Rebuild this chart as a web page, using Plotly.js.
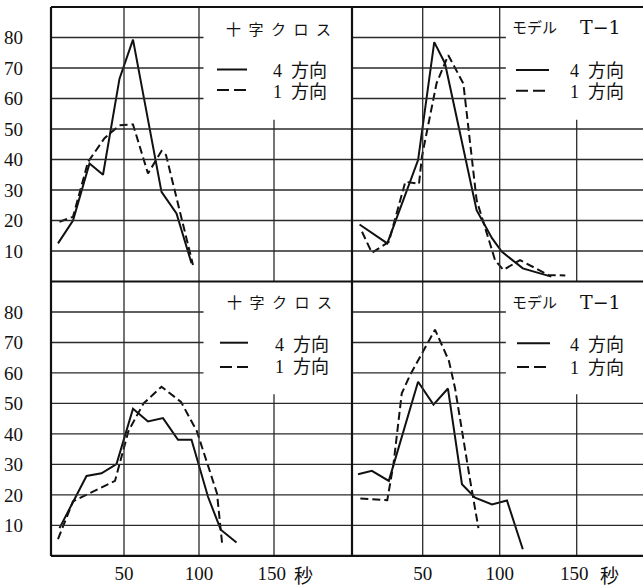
<!DOCTYPE html>
<html><head><meta charset="utf-8">
<script src="https://cdn.plot.ly/plotly-3.0.1.min.js"></script>
<style>html,body{margin:0;padding:0;background:#fff}#chart{width:643px;height:588px}</style>
</head><body><div id="chart"></div>
<script>
// ---------- data ----------
// top-left: 十字クロス
const tlSolidX = [6, 16, 27, 36, 47, 56, 75, 85, 95];
const tlSolidY = [12.5, 20, 38.7, 35, 66.5, 79.3, 29.4, 22.3, 6];
const tlDashX = [7, 16, 26, 37, 47, 56, 66, 75, 78, 96];
const tlDashY = [19.6, 21.2, 39.2, 47, 51.2, 51.5, 35.4, 42.8, 41.5, 5.4];
// top-right: モデル T-1
const trSolidX = [9, 27, 47, 57.5, 64.5, 85, 95, 101.3, 115, 133.5];
const trSolidY = [18.7, 12.5, 39.8, 78.5, 71.5, 23.4, 14.2, 9.8, 4.3, 1.6];
const trDashX = [10.6, 17, 28, 38.7, 47.6, 49.5, 59, 66.6, 76.4, 85, 97, 102.3, 113.2, 131.8, 142.6];
const trDashY = [16.3, 9.4, 13, 32.7, 32, 41, 65, 74.2, 64.9, 26.7, 7, 3.8, 7, 2.1, 2];
// bottom-left: 十字クロス
const blSolidX = [7, 16, 25, 35, 45, 56, 66, 76, 86, 95, 106, 114.5, 125];
const blSolidY = [9.1, 17.9, 26.2, 27.1, 30.1, 48.3, 44.1, 45.2, 38.1, 38.1, 19.4, 8.6, 4.4];
const blDashX = [6, 16, 44, 53, 63, 75, 88, 98.5, 112, 115.5];
const blDashY = [5.5, 17.9, 24.6, 41, 50, 55.5, 50.5, 41, 20.5, 3.6];
// bottom-right: モデル T-1
const brSolidX = [8, 17, 28, 47, 57, 66.4, 75.5, 84, 95, 104.7, 115];
const brSolidY = [26.8, 27.9, 24.6, 57.1, 49.6, 54.9, 23.5, 19.1, 16.9, 18.2, 2.2];
const brDashX = [9.5, 27, 31, 36.4, 41.8, 49.4, 58, 67, 71, 80.7, 86.2];
const brDashY = [18.8, 18.3, 30, 53.3, 59.3, 66.5, 74.2, 64, 55, 25.1, 9.1];

const yTicks = [10, 20, 30, 40, 50, 60, 70, 80];
const xTicks = [50, 100, 150];
const xTickText = ['50', '100', '150\u2005'];
const unitLabel = '秒';
const titleCross = '十\u2002字\u2002ク\u2002ロ\u2002ス';
const titleModel = 'モデル';
const titleModelCode = 'T\u22121';
const seriesNames = ['4\u2002方向', '1\u2002方向'];

// ---------- geometry ----------
const W = 643, H = 588;
const L = 51, M = 352, R = 643, T = 7, MID = 281.5, B = 555.9;
const fx = px => px / W;
const fy = py => 1 - py / H;
const leftRange = [(L - 49) / 1.5, (M - 49) / 1.5];
const rightRange = [(M - 345.7) / 1.54, (R - 345.7) / 1.54];
const yRange = [0, 90];

const INK = '#111';
const serif = 'Liberation Serif';
const mixed = "'Liberation Serif', 'Noto Sans CJK JP'";
const cjk = "'Noto Sans CJK JP'";

function tr(x, y, xa, ya, dash) {
  return {x: x, y: y, xaxis: xa, yaxis: ya, type: 'scatter', mode: 'lines',
    line: {color: INK, width: 2, dash: dash ? '8px,4px' : 'solid'}, hoverinfo: 'skip'};
}
const data = [
  tr(tlSolidX, tlSolidY, 'x', 'y', false), tr(tlDashX, tlDashY, 'x', 'y', true),
  tr(trSolidX, trSolidY, 'x2', 'y2', false), tr(trDashX, trDashY, 'x2', 'y2', true),
  tr(blSolidX, blSolidY, 'x3', 'y3', false), tr(blDashX, blDashY, 'x3', 'y3', true),
  tr(brSolidX, brSolidY, 'x4', 'y4', false), tr(brDashX, brDashY, 'x4', 'y4', true)
];

// grid lines (partial, as in the original)
const shapes = [];
function grid(xr, yr, xmin, xmax, shortEnd) {
  yTicks.forEach(v => {
    shapes.push({type: 'line', xref: xr, yref: yr, x0: xmin, x1: v >= 60 ? shortEnd : xmax, y0: v, y1: v,
      line: {color: '#2a2a2a', width: 1.3}});
  });
  xTicks.forEach(v => {
    shapes.push({type: 'line', xref: xr, yref: yr, x0: v, x1: v, y0: 0, y1: v === 150 ? 53 : 90,
      line: {color: '#2a2a2a', width: 1.3}});
  });
}
grid('x', 'y', leftRange[0], leftRange[1], 103);
grid('x2', 'y2', rightRange[0], rightRange[1], 104);
grid('x3', 'y3', leftRange[0], leftRange[1], 103);
grid('x4', 'y4', rightRange[0], rightRange[1], 104);

// frame
function pline(x0, y0, x1, y1, w) {
  shapes.push({type: 'line', xref: 'paper', yref: 'paper', x0: fx(x0), y0: fy(y0), x1: fx(x1), y1: fy(y1),
    line: {color: INK, width: w}});
}
pline(L, T, R, T, 2);
pline(L, MID, R, MID, 2);
pline(L, B, R, B, 2.2);
pline(L, T, L, B, 2.2);
pline(M, T, M, B, 2.2);

// legend samples + texts
const annotations = [];
function ann(text, px, py, size, family, anchor) {
  annotations.push({text: text, xref: 'paper', yref: 'paper', x: fx(px), y: fy(py),
    xanchor: anchor || 'left', yanchor: 'middle', showarrow: false,
    font: {family: family, size: size, color: INK}});
}
function legend(sx0, sx1, ySolid, yDash, tx, yT1, yT2) {
  shapes.push({type: 'line', xref: 'paper', yref: 'paper', x0: fx(sx0), x1: fx(sx1), y0: fy(ySolid), y1: fy(ySolid),
    line: {color: INK, width: 2}});
  shapes.push({type: 'line', xref: 'paper', yref: 'paper', x0: fx(sx0), x1: fx(sx1), y0: fy(yDash), y1: fy(yDash),
    line: {color: INK, width: 2, dash: '12px,5px'}});
  ann(seriesNames[0], tx, yT1, 18, mixed);
  ann(seriesNames[1], tx, yT2, 18, mixed);
}
// top-left
ann(titleCross, 278.5, 28, 15, cjk, 'center');
legend(217, 247, 69.5, 90, 271, 71, 92);
// top-right
ann(titleModel, 534, 26.5, 15, cjk, 'center');
ann(titleModelCode, 600, 27, 19, 'DejaVu Serif', 'center');
legend(516, 549, 70, 90.7, 568, 71, 92);
// bottom-left
ann(titleCross, 279.5, 301, 15, cjk, 'center');
legend(220, 248, 342.7, 367, 273, 344.5, 366.5);
// bottom-right
ann(titleModel, 534, 301.5, 15, cjk, 'center');
ann(titleModelCode, 600.5, 301.5, 19, 'DejaVu Serif', 'center');
legend(517, 550, 343.3, 367, 568, 345, 368.5);
// unit labels
ann(unitLabel, 303, 574, 19, cjk, 'center');
ann(unitLabel, 609, 574, 19, cjk, 'center');

const tickFont = {family: serif, size: 19, color: INK};
function xa(domain, range, anchor, labels) {
  return {domain: domain, range: range, anchor: anchor, showgrid: false, zeroline: false, showline: false,
    ticks: '', fixedrange: true, tickmode: 'array', tickvals: xTicks, ticktext: xTickText,
    showticklabels: labels, tickfont: tickFont, ticklabelstandoff: 4};
}
function ya(domain, anchor, labels) {
  return {domain: domain, range: yRange, anchor: anchor, showgrid: false, zeroline: false, showline: false,
    ticks: '', fixedrange: true, tickmode: 'array', tickvals: yTicks, ticktext: yTicks.map(String),
    showticklabels: labels, tickfont: tickFont, ticklabelstandoff: 27};
}
const topDom = [fy(MID), fy(T)], botDom = [fy(B), fy(MID)];
const leftDom = [fx(L), fx(M)], rightDom = [fx(M), 1];

const layout = {
  width: W, height: H, margin: {l: 0, r: 0, t: 0, b: 0}, paper_bgcolor: '#fff', plot_bgcolor: 'rgba(0,0,0,0)',
  showlegend: false, hovermode: false,
  xaxis: xa(leftDom, leftRange, 'y', false),
  xaxis2: xa(rightDom, rightRange, 'y2', false),
  xaxis3: xa(leftDom, leftRange, 'y3', true),
  xaxis4: xa(rightDom, rightRange, 'y4', true),
  yaxis: ya(topDom, 'x', true),
  yaxis2: ya(topDom, 'x2', false),
  yaxis3: ya(botDom, 'x3', true),
  yaxis4: ya(botDom, 'x4', false),
  shapes: shapes, annotations: annotations
};
Plotly.newPlot('chart', data, layout, {displayModeBar: false, staticPlot: true});
</script></body></html>
